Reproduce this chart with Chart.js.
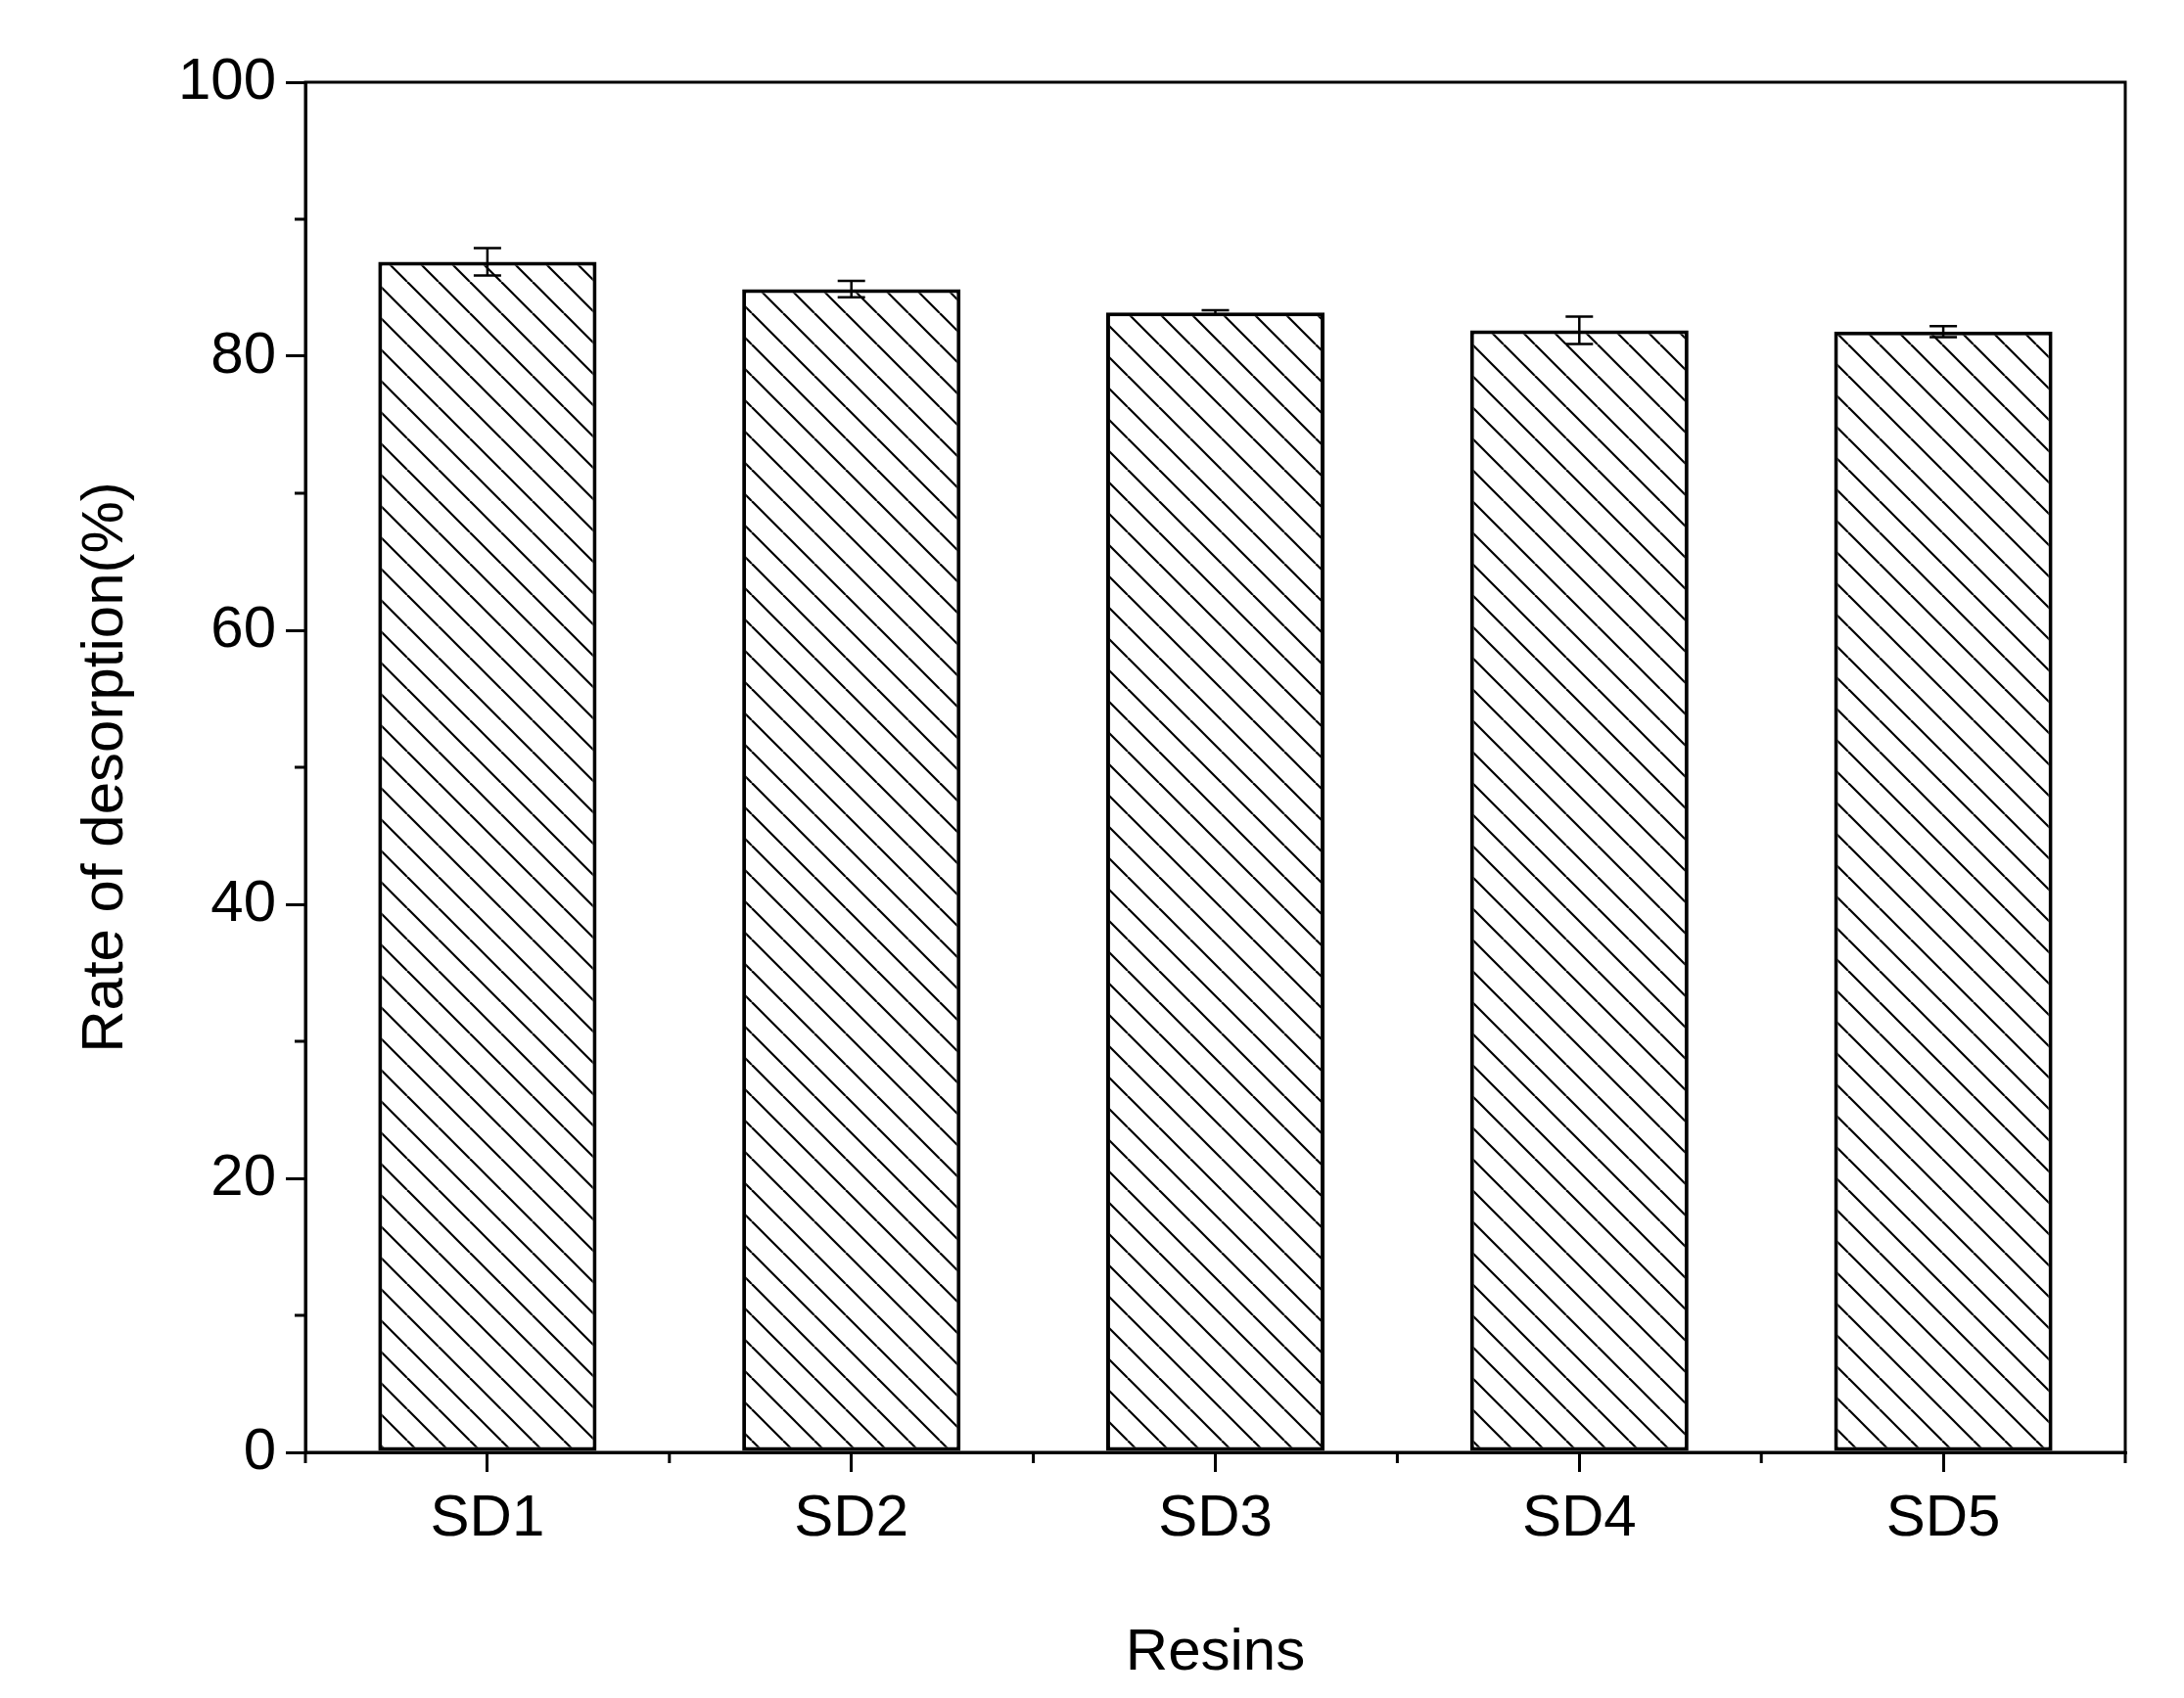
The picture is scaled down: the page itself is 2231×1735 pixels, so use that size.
<!DOCTYPE html>
<html><head><meta charset="utf-8">
<script src="https://cdn.jsdelivr.net/npm/chart.js@4"></script>
<style>html,body{margin:0;padding:0;background:#fff}#w{width:2231px;height:1735px}</style>
</head><body><div id="w"><canvas id="c"></canvas></div>
<script>
const categories = ["SD1","SD2","SD3","SD4","SD5"];
const values = [86.9, 84.9, 83.2, 81.9, 81.8];
const errors = [1.0, 0.6, 0.15, 1.0, 0.4];
const yTicks = [0,20,40,60,80,100];

function hatch(){
  const s=32, p=document.createElement('canvas'); p.width=s; p.height=s;
  const g=p.getContext('2d'); g.fillStyle='#fff'; g.fillRect(0,0,s,s);
  g.strokeStyle='#000'; g.lineWidth=2.2;
  for(const o of [-s,0,s]){g.beginPath();g.moveTo(o,0);g.lineTo(o+s,s);g.stroke();}
  return g.createPattern(p,'repeat');
}
const F="Arial, 'Liberation Sans', sans-serif";
const extra={id:'extra',afterDatasetsDraw(ch){
  const {ctx,scales:{x,y},chartArea:a}=ch;
  ctx.save();ctx.strokeStyle='#000';ctx.lineWidth=2.5;
  values.forEach((v,i)=>{const cx=x.getPixelForValue(i),t=y.getPixelForValue(v+errors[i]),b=y.getPixelForValue(v-errors[i]);
    ctx.beginPath();ctx.moveTo(cx,t);ctx.lineTo(cx,b);ctx.moveTo(cx-14,t);ctx.lineTo(cx+14,t);ctx.moveTo(cx-14,b);ctx.lineTo(cx+14,b);ctx.stroke();});
  ctx.lineWidth=3;
  ctx.strokeRect(a.left,a.top,a.right-a.left,a.bottom-a.top);
  ctx.beginPath();
  for(let v=10;v<100;v+=20){const py=y.getPixelForValue(v);ctx.moveTo(a.left,py);ctx.lineTo(a.left-11,py);}
  for(let i=-0.5;i<=categories.length-0.5;i++){const px=x.getPixelForValue(i);ctx.moveTo(px,a.bottom);ctx.lineTo(px,a.bottom+11);}
  ctx.stroke();ctx.restore();}};
new Chart(document.getElementById('c'),{type:'bar',
 data:{labels:categories,datasets:[{data:values,backgroundColor:hatch(),borderColor:'#000',borderWidth:4,borderSkipped:false,categoryPercentage:1,barPercentage:0.6}]},
 options:{responsive:true,maintainAspectRatio:false,animation:false,devicePixelRatio:1,
  layout:{padding:{top:84,right:60,left:0,bottom:0}},
  plugins:{legend:{display:false},tooltip:{enabled:false}},
  scales:{
   x:{grid:{drawOnChartArea:false,tickLength:20,lineWidth:3,color:'#000',offset:false},border:{display:true,color:'#000',width:3},
      ticks:{color:'#000',font:{family:F,size:60},padding:12},
      title:{display:true,text:'Resins',color:'#000',font:{family:F,size:60},padding:{top:56,bottom:10}},
      afterFit(s){s.height=251;}},
   y:{min:0,max:100,afterBuildTicks(s){s.ticks=yTicks.map(v=>({value:v}));},
      grid:{drawOnChartArea:false,tickLength:20,lineWidth:3,color:'#000'},border:{display:true,color:'#000',width:3},
      ticks:{color:'#000',font:{family:F,size:60},padding:10},
      title:{display:true,text:'Rate of desorption(%)',color:'#000',font:{family:F,size:60},padding:{top:72,bottom:10}},
      afterFit(s){s.width=312;}}}},
 plugins:[extra]});
</script></body></html>
